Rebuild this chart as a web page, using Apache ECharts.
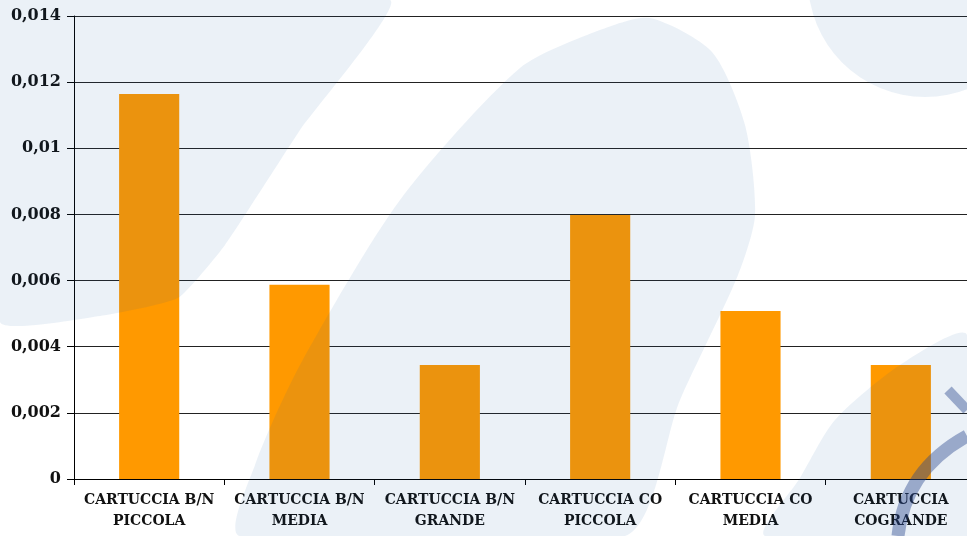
<!DOCTYPE html>
<html><head><meta charset="utf-8">
<script src="https://cdn.jsdelivr.net/npm/echarts@6/dist/echarts.min.js"></script>
<style>html,body{margin:0;padding:0;background:#fff}#c{width:967px;height:536px}</style>
</head><body><div id="c"></div>
<script>
const categories = ["CARTUCCIA B/N\nPICCOLA","CARTUCCIA B/N\nMEDIA","CARTUCCIA B/N\nGRANDE","CARTUCCIA CO\nPICCOLA","CARTUCCIA CO\nMEDIA","CARTUCCIA\nCOGRANDE"];
const values = [0.01164, 0.00587, 0.00345, 0.00798, 0.00508, 0.00345];
const yTicks = {min:0, max:0.014, interval:0.002};

const font = '"DejaVu Serif", serif';
const wm = 'rgba(22,88,166,0.085)';
const dark = 'rgba(40,70,140,0.42)';
const chart = echarts.init(document.getElementById('c'), null, {renderer:'canvas'});
chart.setOption({
  backgroundColor:'#fff',
  animation:false,
  grid:{left:74, width:902, top:16, bottom:57, outerBoundsMode:'none', containLabel:false},
  xAxis:{type:'category', data:categories,
    axisLine:{lineStyle:{color:'#000', width:1}},
    axisTick:{show:true, length:6, lineStyle:{color:'#000'}},
    axisLabel:{interval:0, color:'#111', fontFamily:font, fontWeight:'bold', fontSize:14, lineHeight:21, margin:11}},
  yAxis:{type:'value', min:yTicks.min, max:yTicks.max, interval:yTicks.interval,
    axisLine:{show:true, lineStyle:{color:'#000'}},
    axisTick:{show:true, length:7, lineStyle:{color:'#000'}},
    splitLine:{lineStyle:{color:'#222', width:1}},
    axisLabel:{color:'#111', fontFamily:font, fontWeight:'bold', fontSize:16, margin:13,
      formatter:v=>String(+v.toFixed(3)).replace('.',',')}},
  series:[{type:'bar', data:values, barWidth:'40%', itemStyle:{color:'#FF9900'}}],
  graphic:[
    {type:'circle', z:100, silent:true, shape:{cx:925, cy:-20, r:117}, style:{fill:wm}},
    {type:'polygon', z:100, silent:true, shape:{points:[[0,0],[390,0],[300,130],[225,245],[178,298],[100,316],[0,322]], smooth:0.15}, style:{fill:wm}},
    {type:'polygon', z:100, silent:true, shape:{points:[[240,536],[255,465],[300,365],[400,200],[520,68],[600,30],[650,18],[712,52],[745,125],[755,215],[738,275],[680,400],[625,536]], smooth:0.25}, style:{fill:wm}},
    {type:'polygon', z:100, silent:true, shape:{points:[[765,536],[800,478],[835,420],[900,365],[967,335],[967,536]], smooth:0.25}, style:{fill:wm}},
    {type:'bezierCurve', z:101, silent:true, shape:{x1:898, y1:536, cpx1:905, cpy1:470, x2:967, y2:436}, style:{stroke:dark, lineWidth:13, fill:null}},
    {type:'line', z:101, silent:true, shape:{x1:948, y1:390, x2:967, y2:410}, style:{stroke:dark, lineWidth:10}}
  ]
});
</script></body></html>
